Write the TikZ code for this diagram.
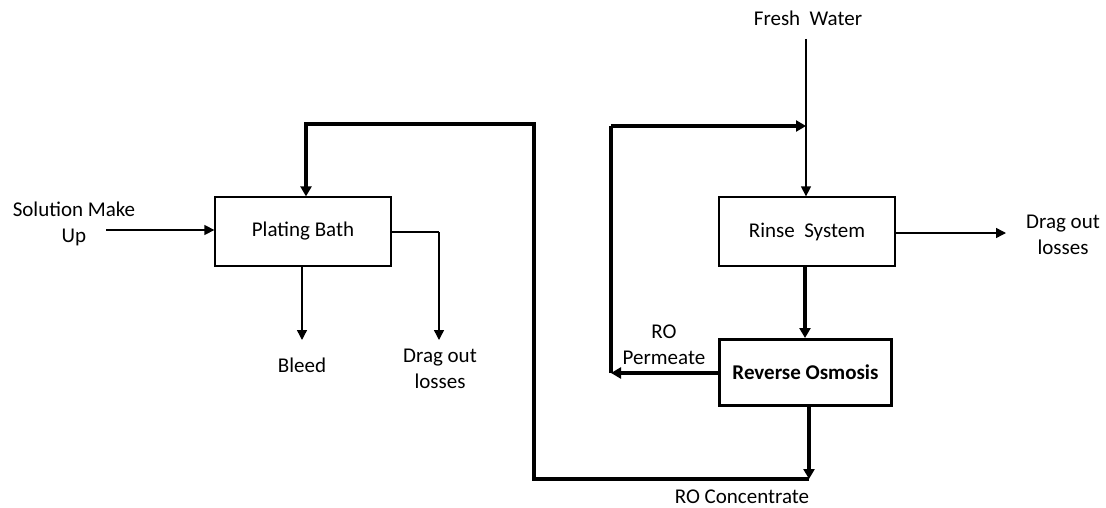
\documentclass[tikz,border=0pt]{standalone}
\usepackage{fontspec}
\setmainfont{Carlito}
\usetikzlibrary{arrows.meta}
\begin{document}
\begin{tikzpicture}[x=1pt,y=-1pt,
  every node/.style={font=\fontsize{21}{26}\selectfont, inner sep=0pt, align=center},
  box/.style={draw, line width=1.3pt, minimum width=176pt, minimum height=69pt},
  robox/.style={draw, line width=3pt, minimum width=172pt, minimum height=66pt, font=\fontsize{21}{26}\selectfont\bfseries},
  thin/.style={line width=1.4pt, -{Triangle[length=10pt,width=10pt]}},
  thinline/.style={line width=1.4pt},
  thick/.style={line width=3.2pt, -{Triangle[length=10pt,width=11pt]}},
  thickline/.style={line width=3.2pt}
]
\useasboundingbox (0,0) rectangle (1106,508);
% boxes
\node[box] (pb) at (303,231.5) {Plating Bath};
\node[box] (rs) at (807,231.5) {Rinse\ \ System};
\node[robox] (ro) at (805.5,372.5) {Reverse Osmosis};
% labels
\node (sol) at (74,224) {Solution Make\\Up};
\node (bleed) at (302,365) {Bleed};
\node (drag1) at (440,369) {Drag out\\losses};
\node (fw) at (808,18) {Fresh\ \ Water};
\node (drag2) at (1063,235) {Drag out\\losses};
\node (perm) at (664,345) {RO\\Permeate};
\node (conc) at (742,497) {RO Concentrate};
% coordinates
\coordinate (s1) at (106,230);
\coordinate (fwtop) at (806,39);
\coordinate (junc) at (806,126);
\coordinate (pl) at (611,373);
\coordinate (ptop) at (611,126);
\coordinate (cb) at (809,479);
\coordinate (cl) at (534,479);
\coordinate (ct) at (534,124);
\coordinate (cpb) at (306,124);
\coordinate (bl) at (302,340);
\coordinate (dr) at (439,232);
\coordinate (drb) at (439,340);
\coordinate (de) at (1006,233);
% connectors
\draw[thin] (s1) -- (s1 -| pb.west);
\draw[thin] (bl |- pb.south) -- (bl);
\draw[thinline] (dr -| pb.east) -- (dr);
\draw[thin] (dr) -- (drb);
\draw[thin] (fwtop) -- (fwtop |- rs.north);
\draw[thin] (de -| rs.east) -- (de);
\draw[thick] (805,266) -- (805,338);
\draw[thick] (pl -| ro.west) -- (pl);
\draw[thickline] (pl) -- (ptop);
\draw[thick] (ptop) -- (junc);
\draw[thick] (cb |- ro.south) -- (cb);
\draw[thickline, line join=miter] (cb) -- (cl) -- (ct) -- (cpb) -- (cpb |- 0,150);
\draw[thick] (cpb |- 0,150) -- (cpb |- pb.north);
\end{tikzpicture}
\end{document}
